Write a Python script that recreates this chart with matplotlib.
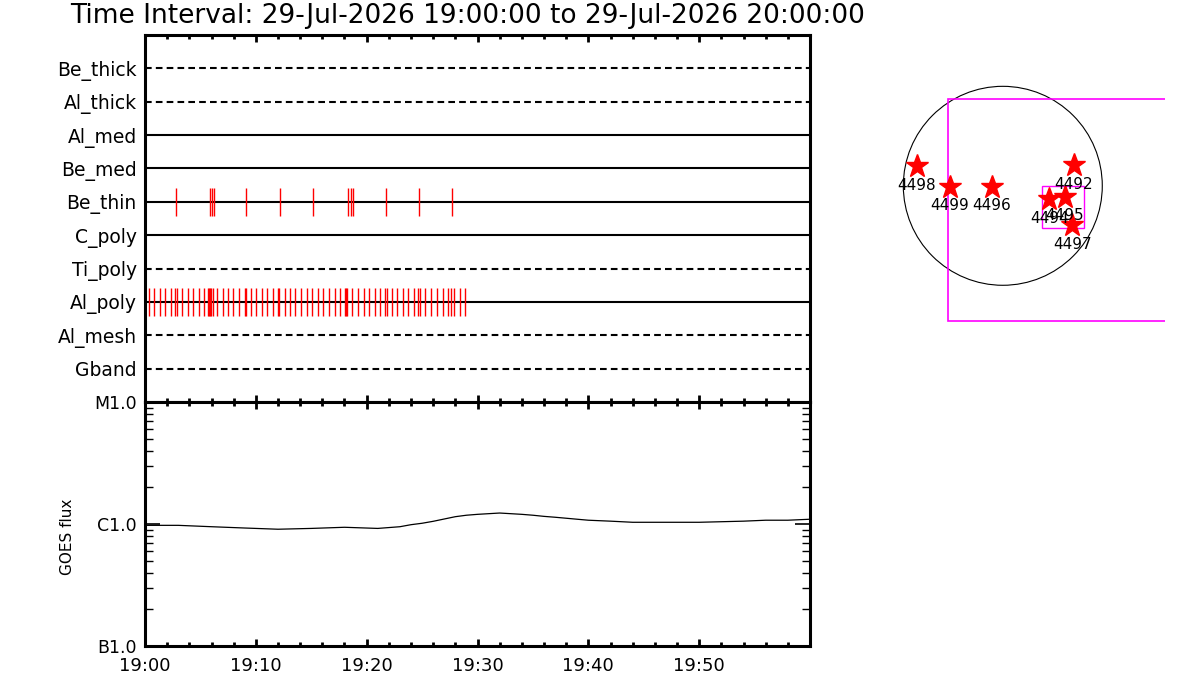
import numpy as np
import matplotlib
matplotlib.use('Agg')
import matplotlib.pyplot as plt
import matplotlib.dates as mdates
from matplotlib.patches import Circle, Rectangle
from matplotlib.ticker import LogLocator, NullFormatter, FixedLocator, FixedFormatter
from datetime import datetime, timedelta

start = datetime(2026, 7, 29, 19, 0, 0)
end = start + timedelta(minutes=60)

# filter channels, top to bottom
channels = ['Be_thick', 'Al_thick', 'Al_med', 'Be_med', 'Be_thin',
            'C_poly', 'Ti_poly', 'Al_poly', 'Al_mesh', 'Gband']
dashed = [True, True, False, False, False, False, True, False, True, True]

# exposure times (minutes after 19:00)
be_thin_min = [2.83, 5.89, 6.05, 6.23, 9.14, 12.21, 15.19, 18.35, 18.59, 18.77,
               21.78, 24.76, 27.73]
al_poly_min = [0.39, 0.84, 1.38, 1.83, 2.38, 2.74, 2.92, 3.37, 3.91, 4.36, 4.90,
               5.35, 5.70, 5.76, 5.82, 5.99, 6.17, 6.53, 7.07, 7.52, 7.97, 8.51,
               9.05, 9.12, 9.60, 10.05, 10.59, 11.04, 11.58, 12.03, 12.12, 12.67,
               13.12, 13.57, 14.11, 14.65, 15.10, 15.64, 16.09, 16.64, 17.18,
               17.63, 18.08, 18.17, 18.26, 18.71, 19.25, 19.80, 20.25, 20.79,
               21.24, 21.69, 21.87, 22.32, 22.77, 23.32, 23.77, 24.31, 24.67,
               24.85, 25.30, 25.84, 26.38, 26.93, 27.38, 27.65, 27.92, 28.46,
               28.91]

# GOES flux curve
goes_min = [0, 3, 6, 9, 12, 15, 18, 21, 23, 24, 25, 26, 27, 28, 29, 30, 32, 34,
            35, 36, 37, 38, 39, 40, 42, 44, 46, 50, 54, 56, 58, 60]
goes_flux = [0.975e-6, 0.975e-6, 0.950e-6, 0.927e-6, 0.906e-6, 0.920e-6,
             0.940e-6, 0.920e-6, 0.950e-6, 0.987e-6, 1.014e-6, 1.052e-6,
             1.099e-6, 1.148e-6, 1.180e-6, 1.200e-6, 1.230e-6, 1.200e-6,
             1.180e-6, 1.155e-6, 1.136e-6, 1.115e-6, 1.094e-6, 1.074e-6,
             1.055e-6, 1.033e-6, 1.033e-6, 1.033e-6, 1.055e-6, 1.074e-6,
             1.074e-6, 1.094e-6]

# tick labels on the time axis (minutes after 19:00)
major_min = [0, 10, 20, 30, 40, 50]
minor_min = [m for m in range(0, 60, 2) if m % 10]

# active regions (arcsec)
ar_num = ['4498', '4499', '4496', '4492', '4494', '4495', '4497']
ar_x = [-831, -512, -107, 684, 449, 600, 671]
ar_y = [191, -9, -9, 198, -130, -105, -378]

fig = plt.figure(figsize=(12, 7), dpi=100)

W, H = 1200.0, 700.0
ax1 = fig.add_axes([145 / W, 1 - 402 / H, 665 / W, 367 / H])
ax2 = fig.add_axes([145 / W, 1 - 646 / H, 665 / W, 244 / H])

def tm(m):
    return [start + timedelta(minutes=v) for v in m]

# top panel: channel lines
for i, name in enumerate(channels):
    ls = (0, (3.2, 2.0)) if dashed[i] else '-'
    ax1.axhline(i + 1, color='black', lw=1.5, ls=ls)

row_be = channels.index('Be_thin') + 1
row_al = channels.index('Al_poly') + 1
ax1.vlines(tm(be_thin_min), row_be - 0.42, row_be + 0.42, color='red', lw=1.0)
ax1.vlines(tm(al_poly_min), row_al - 0.42, row_al + 0.42, color='red', lw=1.0)

ax1.set_ylim(11, 0)
ax1.set_yticks(range(1, len(channels) + 1))
ax1.set_yticklabels(channels, fontsize=13.5)
ax1.tick_params(axis='y', length=0, pad=6)

for ax in (ax1, ax2):
    ax.set_xlim(start, end)
    ax.set_xticks(tm(major_min))
    ax.set_xticks(tm(minor_min), minor=True)
    ax.tick_params(axis='x', which='major', direction='in', top=True, length=5, width=2)
    ax.tick_params(axis='x', which='minor', direction='in', top=True, length=3, width=2)
    for s in ax.spines.values():
        s.set_linewidth(2.2)
ax1.tick_params(axis='x', labelbottom=False)

# bottom panel: GOES
ax2.plot(tm(goes_min), goes_flux, color='black', lw=0.9)
ax2.set_yscale('log')
ax2.set_ylim(1e-7, 1e-5)
ax2.yaxis.set_major_locator(FixedLocator([1e-7, 1e-6, 1e-5]))
ax2.yaxis.set_major_formatter(FixedFormatter(['B1.0', 'C1.0', 'M1.0']))
ax2.yaxis.set_minor_locator(LogLocator(base=10, subs=np.arange(2, 10)))
ax2.yaxis.set_minor_formatter(NullFormatter())
ax2.tick_params(axis='y', which='major', direction='in', right=True, length=11, width=1.2,
                labelsize=12.5, pad=6)
ax2.tick_params(axis='y', which='minor', direction='in', right=True, length=5.5, width=1)
ax2.xaxis.set_major_formatter(mdates.DateFormatter('%H:%M'))
ax2.tick_params(axis='x', labelsize=13, pad=8)

fig.text(67 / W, 1 - 537 / H, 'GOES flux', rotation=90, ha='center', va='center',
         fontsize=11)
fig.text(70 / W, 1 - 16 / H,
         'Time Interval: 29-Jul-2026 19:00:00 to 29-Jul-2026 20:00:00',
         ha='left', va='center', fontsize=19)

# solar disk panel (1 px = 9.65 arcsec)
sc = 9.65
cx, cy = 1002.8, 185.8
L, R, T, B = 850.0, 1165.0, 60.0, 340.0
ax3 = fig.add_axes([L / W, 1 - B / H, (R - L) / W, (B - T) / H])
ax3.set_xlim((L - cx) * sc, (R - cx) * sc)
ax3.set_ylim(-(B - cy) * sc, -(T - cy) * sc)
ax3.axis('off')
ax3.add_patch(Circle((0, 0), 960, fill=False, ec='black', lw=0.8, clip_on=False))
ax3.add_patch(Rectangle((-532, -1302), 2137, 2137, fill=False, ec='magenta', lw=1.2))
ax3.add_patch(Rectangle((381, -407), 405, 402, fill=False, ec='magenta', lw=1.0))
ax3.plot(ar_x, ar_y, ls='none', marker='*', ms=17, color='red', mec='red')
for n, x, y in zip(ar_num, ar_x, ar_y):
    ax3.text(x, y - 185, n, ha='center', va='center', fontsize=11)

fig.savefig('out.png', dpi=100)
